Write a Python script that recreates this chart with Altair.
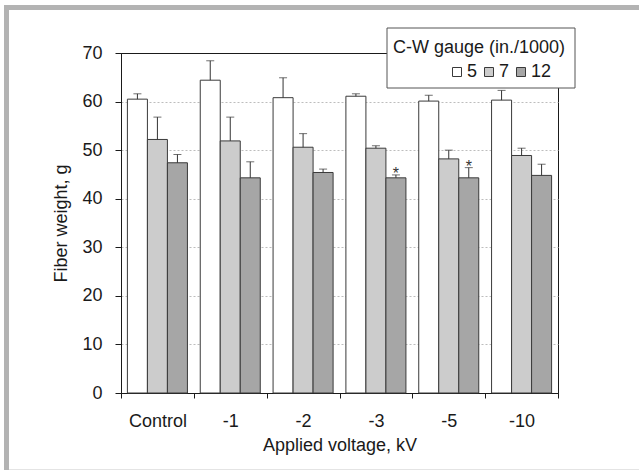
import altair as alt
import pandas as pd

# ---- data ----
categories = ["Control", "-1", "-2", "-3", "-5", "-10"]
gauges = ["5", "7", "12"]
g5 = [60.5, 64.4, 60.8, 61.1, 60.1, 60.3]
g5_err = [1.1, 4.0, 4.1, 0.5, 1.2, 2.0]
g7 = [52.2, 51.9, 50.6, 50.4, 48.2, 48.9]
g7_err = [4.6, 4.9, 2.8, 0.5, 1.8, 1.5]
g12 = [47.4, 44.3, 45.4, 44.3, 44.3, 44.8]
g12_err = [1.7, 3.3, 0.7, 0.6, 2.1, 2.3]
g12_mark = ["", "", "", "*", "*", ""]
y_ticks = [0, 10, 20, 30, 40, 50, 60, 70]
legend_title = "C-W gauge (in./1000)"

rows = []
for gauge, vals, errs, marks in [
    ("5", g5, g5_err, [""] * 6),
    ("7", g7, g7_err, [""] * 6),
    ("12", g12, g12_err, g12_mark),
]:
    for c, v, e, m in zip(categories, vals, errs, marks):
        rows.append({"cat": c, "gauge": gauge, "value": v, "upper": v + e, "mark": m})
df = pd.DataFrame(rows)

FONT = "Liberation Sans"
INK = "#1a1a1a"

x_enc = alt.X("cat:N", sort=categories,
              scale=alt.Scale(paddingInner=0, paddingOuter=0),
              axis=alt.Axis(title="Applied voltage, kV", labelAngle=0, tickBand="extent",
                            tickSize=5, labelPadding=14, titlePadding=6, grid=False))
xo_enc = alt.XOffset("gauge:N", sort=gauges,
                     scale=alt.Scale(paddingInner=0, paddingOuter=0.32))
y_enc = alt.Y("value:Q", scale=alt.Scale(domain=[0, 70], nice=False),
              axis=alt.Axis(title="Fiber weight, g", values=y_ticks, tickSize=6,
                            labelPadding=13, titlePadding=11, grid=True,
                            gridDash=[2, 2],
                            gridColor={"condition": {"test": "datum.value >= 70 || datum.value <= 0",
                                                     "value": INK},
                                       "value": "#bdbdbd"}))

base = alt.Chart(df)

bars = base.mark_bar(stroke="#3a3a3a", strokeWidth=1).encode(
    x=x_enc, xOffset=xo_enc, y=y_enc,
    color=alt.Color("gauge:N", sort=gauges,
                    scale=alt.Scale(domain=gauges, range=["#ffffff", "#cccccc", "#a6a6a6"]),
                    legend=alt.Legend(title=None, orient="none",
                                      legendX=327, legendY=10, direction="horizontal",
                                      columns=3, gridAlign="none",
                                      symbolType="square", symbolSize=81,
                                      symbolStrokeColor="#3a3a3a", symbolStrokeWidth=1,
                                      labelOffset=1, columnPadding=2, padding=0)),
)

err = base.mark_rule(color="#333333", strokeWidth=1).encode(
    x=alt.X("cat:N", sort=categories), xOffset=alt.XOffset("gauge:N", sort=gauges),
    y="value:Q", y2="upper:Q",
)

caps = base.mark_tick(color="#333333", orient="horizontal", size=8, thickness=1).encode(
    x=alt.X("cat:N", sort=categories), xOffset=alt.XOffset("gauge:N", sort=gauges),
    y="upper:Q",
)

stars = base.mark_text(font=FONT, fontSize=16, color="#333333", baseline="alphabetic", dy=4).encode(
    x=alt.X("cat:N", sort=categories), xOffset=alt.XOffset("gauge:N", sort=gauges),
    y="upper:Q", text="mark:N",
)

one = pd.DataFrame({"k": [0]})
frame_left = alt.Chart(one).mark_rect(color="#b3b3b3").encode(
    x=alt.value(-117), x2=alt.value(-112), y=alt.value(-48), y2=alt.value(417))
frame_top = alt.Chart(one).mark_rect(color="#b3b3b3").encode(
    x=alt.value(-117), x2=alt.value(518), y=alt.value(-48), y2=alt.value(-43))
frame_bottom = alt.Chart(one).mark_rect(color="#e4e4e4").encode(
    x=alt.value(-112), x2=alt.value(518), y=alt.value(416), y2=alt.value(417))

legend_box = alt.Chart(one).mark_rect(fill="#ffffff", stroke="#555555", strokeWidth=1).encode(
    x=alt.value(266), x2=alt.value(454), y=alt.value(-25), y2=alt.value(35))
legend_text = alt.Chart(one).mark_text(font=FONT, fontSize=18, color=INK, align="left",
                                       baseline="alphabetic").encode(
    x=alt.value(272), y=alt.value(0), text=alt.value(legend_title))

chart = alt.layer(frame_left, frame_top, frame_bottom, bars, err, caps, stars,
                  legend_box, legend_text).properties(
    width=437, height=340,
    padding={"left": 121, "top": 53, "right": 81, "bottom": 79},
    autosize=alt.AutoSizeParams(type="none"),
    background="#ffffff",
).configure_view(
    stroke=INK, strokeWidth=1
).configure_axis(
    labelFont=FONT, titleFont=FONT, labelFontSize=18, titleFontSize=18,
    labelColor=INK, titleColor=INK, domainColor=INK, tickColor=INK,
    titleFontWeight="normal"
).configure_legend(
    labelFont=FONT, titleFont=FONT, labelFontSize=18, titleFontSize=18,
    labelColor=INK, titleColor=INK, titleFontWeight="normal", cornerRadius=0
)

chart.save("out.html", embed_options={"renderer": "svg", "actions": False})
